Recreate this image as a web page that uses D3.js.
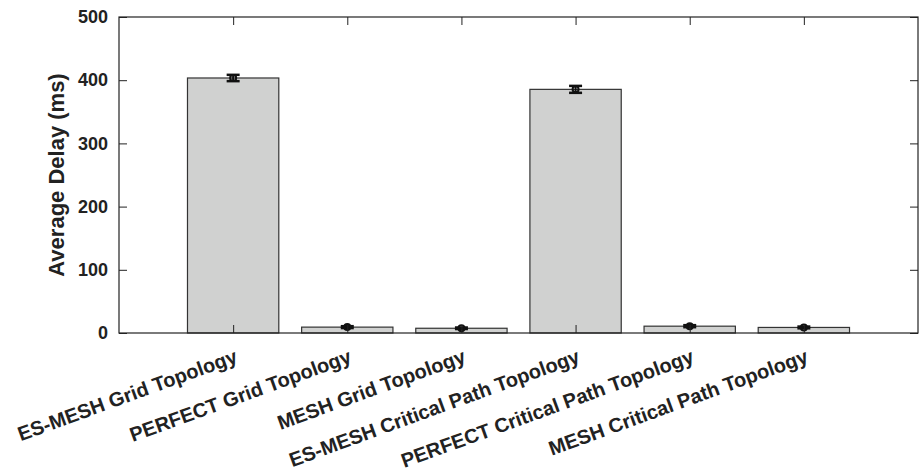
<!DOCTYPE html>
<html>
<head>
<meta charset="utf-8">
<script src="https://cdn.jsdelivr.net/npm/d3@7"></script>
<style>
  body { margin: 0; background: #fff; }
  svg text { font-family: "Liberation Sans", Arial, sans-serif; font-weight: bold; fill: #222; }
</style>
</head>
<body>
<svg id="chart" width="921" height="471"></svg>
<script>
// Average delay per protocol / topology (ms), with error half-widths
const categories = [
  "ES-MESH Grid Topology",
  "PERFECT Grid Topology",
  "MESH Grid Topology",
  "ES-MESH Critical Path Topology",
  "PERFECT Critical Path Topology",
  "MESH Critical Path Topology"
];
const delays = [403.5, 9.3, 7.5, 385.5, 10.8, 8.8];
const errors = [5, 1.5, 1.2, 5.5, 1.6, 1.4];
const yTicks = [0, 100, 200, 300, 400, 500];

const svg = d3.select("#chart");
const m = { left: 119, right: 3, top: 17, bottom: 138 };
const W = 921, H = 471;
const x0 = m.left, x1 = W - m.right, y0 = H - m.bottom, y1 = m.top;
const FONT = "'Liberation Sans', Arial, sans-serif";

// Positions 0..7, categories at 1..6
const x = d3.scaleLinear().domain([0, categories.length + 1]).range([x0, x1]);
const y = d3.scaleLinear().domain([0, 500]).range([y0, y1]);
const barW = (x(1) - x(0)) * 0.8;

// Bars
svg.append("g").selectAll("rect").data(delays).join("rect")
  .attr("x", (d, i) => x(i + 1) - barW / 2)
  .attr("y", d => y(d))
  .attr("width", barW)
  .attr("height", d => y(0) - y(d))
  .attr("fill", "#d0d1d0")
  .attr("stroke", "#333")
  .attr("stroke-width", 1.2);

// Error bars with circular markers
const eb = svg.append("g").attr("stroke", "#111").attr("fill", "none");
delays.forEach((d, i) => {
  const cx = x(i + 1), cap = 6.5;
  eb.append("line").attr("x1", cx).attr("x2", cx)
    .attr("y1", y(d - errors[i])).attr("y2", y(d + errors[i])).attr("stroke-width", 2);
  [d - errors[i], d + errors[i]].forEach(v => {
    eb.append("line").attr("x1", cx - cap).attr("x2", cx + cap)
      .attr("y1", y(v)).attr("y2", y(v)).attr("stroke-width", 2.5);
  });
  eb.append("circle").attr("cx", cx).attr("cy", y(d)).attr("r", 3).attr("stroke-width", 2);
});

// Frame
svg.append("rect").attr("x", x0).attr("y", y1).attr("width", x1 - x0).attr("height", y0 - y1)
  .attr("fill", "none").attr("stroke", "#222").attr("stroke-width", 1.2);

// Left axis (ticks pointing inward)
const yAxis = d3.axisLeft(y).tickValues(yTicks).tickSize(-8).tickPadding(11);
const gy = svg.append("g").attr("transform", `translate(${x0},0)`).call(yAxis);
gy.select(".domain").remove();
gy.selectAll("line").attr("stroke", "#222");
gy.selectAll("text").attr("font-size", 18).style("font-family", FONT).style("font-weight", "bold").attr("fill", "#222");

// Right axis ticks
const gr = svg.append("g").attr("transform", `translate(${x1},0)`)
  .call(d3.axisRight(y).tickValues(yTicks).tickSize(-8).tickFormat(""));
gr.select(".domain").remove();
gr.selectAll("line").attr("stroke", "#222");

// Top ticks
const catIdx = categories.map((c, i) => i + 1);
const gt = svg.append("g").attr("transform", `translate(0,${y1})`)
  .call(d3.axisTop(x).tickValues(catIdx).tickSize(-8).tickFormat(""));
gt.select(".domain").remove();
gt.selectAll("line").attr("stroke", "#222");

// Bottom axis with rotated category labels
const gb = svg.append("g").attr("transform", `translate(0,${y0})`)
  .call(d3.axisBottom(x).tickValues(catIdx).tickSize(-8).tickFormat((d) => categories[d - 1]));
gb.select(".domain").remove();
gb.selectAll("line").attr("stroke", "#222");
gb.selectAll("text")
  .attr("font-size", 20)
  .style("font-family", FONT).style("font-weight", "bold")
  .attr("fill", "#222")
  .attr("text-anchor", "end")
  .attr("dy", null)
  .attr("y", 0)
  .attr("transform", "translate(5,29) rotate(-20)");

// Y-axis title
svg.append("text")
  .attr("transform", `translate(64,${(y0 + y1) / 2}) rotate(-90)`)
  .attr("text-anchor", "middle")
  .attr("font-size", 22)
  .style("font-family", FONT).style("font-weight", "bold")
  .attr("fill", "#222")
  .text("Average Delay (ms)");
</script>
</body>
</html>
